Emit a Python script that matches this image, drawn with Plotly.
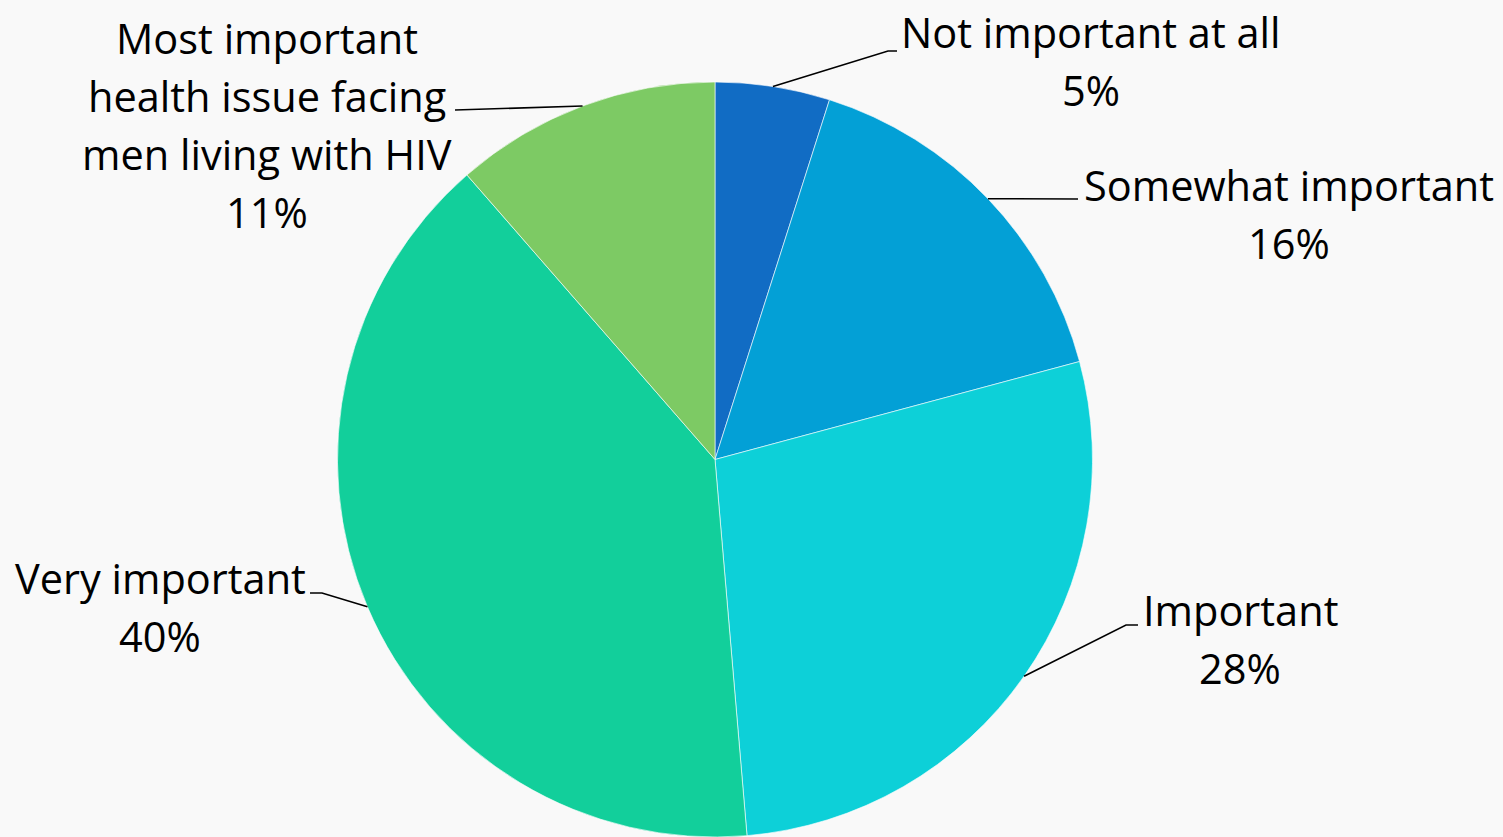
import math
import plotly.graph_objects as go

# ---- data ----
categories = ["Not important at all", "Somewhat important", "Important",
              "Very important", "Most important health issue facing men living with HIV"]
label_lines = [["Not important at all"], ["Somewhat important"], ["Important"],
               ["Very important"], ["Most important", "health issue facing", "men living with HIV"]]
values = [4.9, 15.9, 27.8, 39.9, 11.4]
colors = ["#116CC4", "#03A0D6", "#0DD0D8", "#12CF9B", "#7DCA64"]

W, H = 1503, 837
# pie geometry (pixels)
CX, CY, R = 715, 459.5, 377.5

def px(x):
    return x / W

def py(y):
    return 1 - y / H

fig = go.Figure(go.Pie(
    labels=categories, values=values, sort=False, direction="clockwise", rotation=0,
    marker=dict(colors=colors, line=dict(color="rgba(255,255,255,0.6)", width=1)),
    textinfo="none", hoverinfo="label+percent", showlegend=False,
    domain=dict(x=[px(CX - R), px(CX + R)], y=[0, py(CY - R)]),
))

total = sum(values)
pcts = [round(v / total * 100) for v in values]

# label layout: (center x, first line y) in px; leader elbow points in px
label_pos = [(1091, 32), (1289, 185), (1240, 610), (160, 578), (267, 38)]
elbows = [[(888, 51), (897, 51)], [(1078, 199)], [(1126, 625), (1138, 625)],
          [(322, 593), (310, 593)], [(455, 110)]]
LINE = 58
FONT = dict(family="Open Sans, Carlito, Calibri, sans-serif", size=41.5, color="#000000")

cum = 0
shapes = []
annotations = []
for i, v in enumerate(values):
    mid = (cum + v / 2) / total * 2 * math.pi
    cum += v
    sx = CX + R * math.sin(mid)
    sy = CY - R * math.cos(mid)
    pts = [(sx, sy)] + elbows[i]
    path = "M " + " L ".join(f"{px(a):.5f},{py(b):.5f}" for a, b in pts)
    shapes.append(dict(type="path", path=path, xref="paper", yref="paper",
                       line=dict(color="#000000", width=1.6)))
    lx, ly = label_pos[i]
    lines = label_lines[i] + [f"{pcts[i]}%"]
    for j, t in enumerate(lines):
        annotations.append(dict(text=t, x=px(lx), y=py(ly + j * LINE), xref="paper", yref="paper",
                                xanchor="center", yanchor="middle", showarrow=False, font=FONT))

fig.update_layout(
    width=W, height=H, margin=dict(l=0, r=0, t=0, b=0),
    paper_bgcolor="#F9F9F9", plot_bgcolor="#F9F9F9",
    shapes=shapes, annotations=annotations,
)
fig.write_html("out.html")
